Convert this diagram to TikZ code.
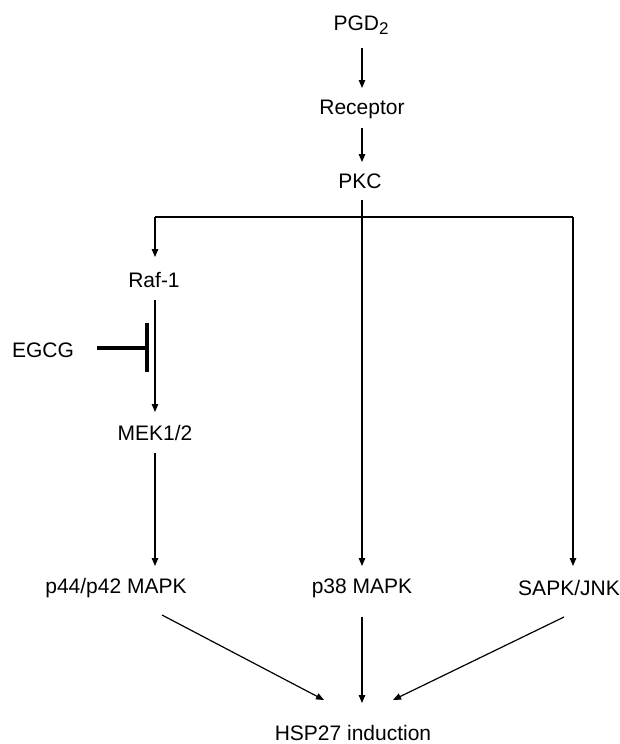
\documentclass[tikz,border=0pt]{standalone}
\usepackage{fontspec}
\setmainfont{Liberation Sans}
\usetikzlibrary{arrows.meta}
\begin{document}
\begin{tikzpicture}[x=1pt,y=-1pt,
  lbl/.style={inner sep=0pt,font=\fontsize{21}{24}\selectfont},
  arr/.style={line width=1.2pt,-{Triangle[length=8pt,width=6.5pt]}},
  ln/.style={line width=1.2pt}]
\useasboundingbox[fill=white] (0,0) rectangle (620,744);
\node[lbl] (pgd) at (361,25) {PGD\raisebox{-0.4ex}{\fontsize{17}{17}\selectfont 2}};
\node[lbl] (rec) at (362,109) {Receptor};
\node[lbl] (pkc) at (360,181) {PKC};
\node[lbl] (raf) at (154,280) {Raf-1};
\node[lbl] (egcg) at (43,350) {EGCG};
\node[lbl] (mek) at (155,433) {MEK1/2};
\node[lbl] (p44) at (116,588) {p44/p42 MAPK};
\node[lbl] (p38) at (362,588) {p38 MAPK};
\node[lbl] (sapk) at (569,588) {SAPK/JNK};
\node[lbl] (hsp) at (353,733) {HSP27 induction};
\coordinate (jl) at (155,217);
\coordinate (jr) at (573,217);
\coordinate (sapkin) at (573,566);
\coordinate (p44in) at (155,566);
\coordinate (p44out) at (162,615);
\coordinate (sapkout) at (564,617);
\coordinate (bar) at (147,348);
% top chain
\draw[arr] ([xshift=1pt,yshift=-23pt]pgd.center) -- ([yshift=21pt]rec.center);
\draw[arr] ([yshift=-19pt]rec.center) -- ([xshift=2pt,yshift=19pt]pkc.center);
% branches
\draw[arr] ([xshift=2pt,yshift=-19pt]pkc.center) -- ([yshift=22pt]p38.center);
\draw[ln] (jl) -- (jr);
\draw[arr] (jl) -- ([xshift=1pt,yshift=23pt]raf.center);
\draw[arr] (jr) -- (sapkin);
\draw[arr] ([xshift=1pt,yshift=-20pt]raf.center) -- ([yshift=21pt]mek.center);
\draw[arr] ([yshift=-20pt]mek.center) -- (p44in);
% inhibition
\draw[line width=4pt] ([xshift=54pt,yshift=2pt]egcg.center) -- (bar);
\draw[line width=4pt] ([yshift=25pt]bar) -- ([yshift=-24pt]bar);
% convergence
\draw[arr] (p44out) -- ([xshift=-29pt,yshift=33pt]hsp.center);
\draw[arr] ([yshift=-29pt]p38.center) -- ([xshift=9pt,yshift=30pt]hsp.center);
\draw[arr] (sapkout) -- ([xshift=40pt,yshift=33pt]hsp.center);
\end{tikzpicture}
\end{document}
